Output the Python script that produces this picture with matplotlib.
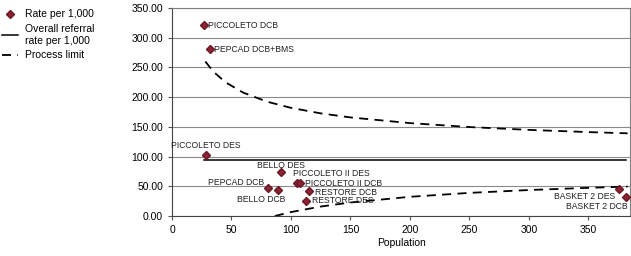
import matplotlib.pyplot as plt
from matplotlib.ticker import FormatStrFormatter

plt.rcParams['font.family'] = ['Liberation Sans', 'DejaVu Sans']

# procedures: population and rate per 1,000
names = ["PICCOLETO DCB", "PEPCAD DCB+BMS", "PICCOLETO DES", "BELLO DES",
         "PICCOLETO II DES", "PICCOLETO II DCB", "PEPCAD DCB", "BELLO DCB",
         "RESTORE DCB", "RESTORE DES", "BASKET 2 DES", "BASKET 2 DCB"]
population = [27, 32, 28.5, 92, 105, 107.5, 81, 89, 115.5, 113, 375.5, 381.5]
rate = [321, 281, 103, 74.5, 55.5, 55, 47.5, 44, 42, 26, 45, 32.5]

overall_rate = 94.3

# process limits
limit_pop = [28, 35, 45, 60, 80, 100, 125, 150, 200, 250, 300, 350, 383]
upper_limit = [260.0, 242.5, 225.0, 207.5, 192.3, 182.0, 172.7, 165.9,
               156.3, 149.7, 144.9, 141.2, 139.1]
lower_pop = [86.5, 100, 125, 150, 200, 250, 300, 350, 383]
lower_limit = [0.0, 6.6, 15.9, 22.7, 32.3, 38.9, 43.7, 47.4, 49.5]

# label placement (offset in pixels, alignment)
label_pos = {
    "PICCOLETO DCB": (4, 0, "left", "center"),
    "PEPCAD DCB+BMS": (4, 0, "left", "center"),
    "PICCOLETO DES": (0, 5, "center", "bottom"),
    "BELLO DES": (0, 6.5, "center", "center"),
    "PICCOLETO II DES": (-4, 10, "left", "center"),
    "PICCOLETO II DCB": (5, 0, "left", "center"),
    "PEPCAD DCB": (-4, 5, "right", "center"),
    "BELLO DCB": (7, -9.5, "right", "center"),
    "RESTORE DCB": (6, -1, "left", "center"),
    "RESTORE DES": (6, 0, "left", "center"),
    "BASKET 2 DES": (-3, -7, "right", "center"),
    "BASKET 2 DCB": (2, -10, "right", "center"),
}

fig = plt.figure(figsize=(6.31, 2.56), dpi=100)
ax = fig.add_axes([172 / 631, 40 / 256, 458 / 631, 208 / 256])

ax.set_axisbelow(True)
ax.yaxis.grid(True, color="#8a8a8a", linewidth=0.8)

ax.plot([min(population), max(population)], [overall_rate, overall_rate],
        color="black", linewidth=1.1, label="Overall referral\nrate per 1,000")
ax.plot(limit_pop, upper_limit, color="black", linestyle=(0, (5, 3.5)),
        linewidth=1.3, label="Process limit")
ax.plot(lower_pop, lower_limit, color="black", linestyle=(0, (5, 3.5)),
        linewidth=1.3)
ax.plot(population, rate, linestyle="none", marker="D", markersize=4.5,
        markerfacecolor="#8B2332", markeredgecolor="#6a1a25",
        label="Rate per 1,000", zorder=5)

px = 72 / 100
for n, x, y in zip(names, population, rate):
    dx, dy, ha, va = label_pos[n]
    ax.annotate(n, (x, y), xytext=(dx * px, dy * px), textcoords="offset points",
                ha=ha, va=va, fontsize=6.2, color="#222222")

ax.set_xlim(0, 385)
ax.set_ylim(0, 350)
ax.set_xticks(range(0, 400, 50))
ax.set_yticks(range(0, 400, 50))
ax.yaxis.set_major_formatter(FormatStrFormatter("%.2f"))
ax.tick_params(labelsize=7.5, length=3, width=0.8, color="#555555")
ax.set_xlabel("Population", fontsize=7.5, labelpad=2)

for side in ["top", "right"]:
    ax.spines[side].set_color("#808080")
for side in ["left", "bottom"]:
    ax.spines[side].set_color("#444444")

handles, labels = ax.get_legend_handles_labels()
order = [2, 0, 1]
fig.legend([handles[i] for i in order], [labels[i] for i in order],
           loc="upper left", bbox_to_anchor=(-0.012, 1.0), frameon=False,
           fontsize=7.5, handlelength=1.6, handletextpad=0.6, labelspacing=0.45)

fig.savefig("out.png", dpi=100)
